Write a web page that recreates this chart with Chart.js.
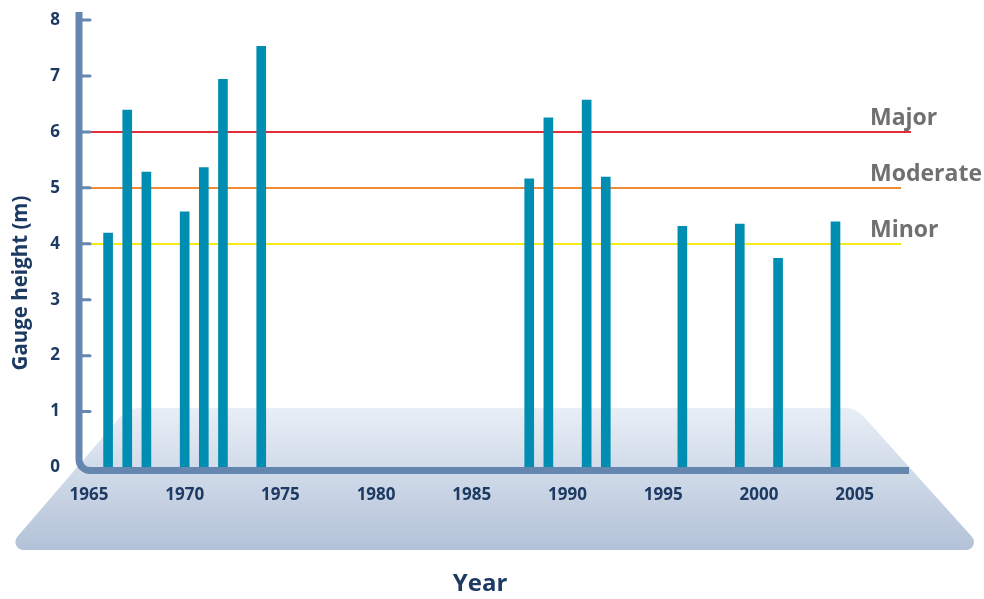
<!DOCTYPE html>
<html lang="en">
<head>
    <meta charset="UTF-8">
    <title>Gauge height</title>
    <script src="https://cdn.jsdelivr.net/npm/chart.js"></script>
    <style>
        body { margin: 0; background: #fff; }
    </style>
</head>
<body>
    <canvas id="chartGauge" width="984" height="599"></canvas>

    <script>
        // peak flood heights per year
        const years = [1966, 1967, 1968, 1970, 1971, 1972, 1974, 1988, 1989, 1991, 1992, 1996, 1999, 2001, 2004];
        const heights = [4.19, 6.39, 5.28, 4.57, 5.36, 6.94, 7.53, 5.16, 6.25, 6.57, 5.19, 4.31, 4.35, 3.74, 4.39];

        // flood classification levels
        const floodLevels = [6, 5, 4];
        const floodLabels = ['Major', 'Moderate', 'Minor'];

        const xTicks = [1965, 1970, 1975, 1980, 1985, 1990, 1995, 2000, 2005];
        const yTicks = [0, 1, 2, 3, 4, 5, 6, 7, 8];

        const navy = '#1d3a63';
        const axisColor = '#6587af';
        const levelColors = ['#e32e37', '#ef8a35', '#f6ea16'];

        // light blue "floor" behind the axes
        const floorPlugin = {
            id: 'floor',
            beforeDraw(chart) {
                const ctx = chart.ctx;
                const top = 408, bottom = 550;
                const pts = [[128, top], [856, top], [984, bottom], [6, bottom]];
                const radii = [24, 24, 8, 8];
                ctx.save();
                let g = ctx.createLinearGradient(0, top, 0, bottom);
                g.addColorStop(0, '#e8eef6');
                g.addColorStop(1, '#b3c2d8');
                ctx.fillStyle = g;
                ctx.beginPath();
                let mx = (pts[3][0] + pts[0][0]) / 2, my = (pts[3][1] + pts[0][1]) / 2;
                ctx.moveTo(mx, my);
                for (let i = 0; i < 4; i++) {
                    let p = pts[i], n = pts[(i + 1) % 4];
                    ctx.arcTo(p[0], p[1], n[0], n[1], radii[i]);
                }
                ctx.closePath();
                ctx.fill();
                ctx.restore();
            }
        };

        // flood level lines + labels (under the bars) and the axis titles
        const levelsPlugin = {
            id: 'levels',
            beforeDatasetsDraw(chart) {
                const ctx = chart.ctx;
                const y = chart.scales.y, area = chart.chartArea;
                ctx.save();
                floodLevels.forEach((lvl, i) => {
                    let py = Math.round(y.getPixelForValue(lvl));
                    ctx.strokeStyle = levelColors[i];
                    ctx.lineWidth = 2;
                    ctx.beginPath();
                    ctx.moveTo(area.left + 10, py);
                    ctx.lineTo(i === 0 ? area.right + 2 : area.right - 8, py);
                    ctx.stroke();

                    ctx.fillStyle = '#707070';
                    ctx.font = 'bold 23px "Open Sans"';
                    ctx.textAlign = 'left';
                    ctx.textBaseline = 'alphabetic';
                    ctx.fillText(floodLabels[i], area.right - 39, py - 7);
                });

                ctx.fillStyle = navy;
                ctx.textAlign = 'center';
                ctx.textBaseline = 'middle';

                // x title sits a bit left of the plot centre in the original
                ctx.font = 'bold 24px "Open Sans"';
                ctx.fillText('Year', 480, 584);

                // y title
                ctx.font = 'bold 20.5px "Open Sans"';
                ctx.translate(21, 283);
                ctx.rotate(-Math.PI / 2);
                ctx.fillText('Gauge height (m)', 0, 0);
                ctx.restore();
            }
        };

        // thick rounded axis lines, drawn over the bar bottoms
        const axesPlugin = {
            id: 'axesLines',
            afterDatasetsDraw(chart) {
                const ctx = chart.ctx;
                const y = chart.scales.y, area = chart.chartArea;
                const ax = area.left, ay = area.bottom + 3;
                ctx.save();
                ctx.strokeStyle = axisColor;

                ctx.lineWidth = 3;
                ctx.lineCap = 'round';
                yTicks.slice(1).forEach(v => {
                    let py = y.getPixelForValue(v);
                    ctx.beginPath();
                    ctx.moveTo(ax, py);
                    ctx.lineTo(ax + 11, py);
                    ctx.stroke();
                });

                ctx.lineWidth = 7;
                ctx.lineCap = 'butt';
                ctx.beginPath();
                ctx.moveTo(ax, area.top - 8);
                ctx.arcTo(ax, ay, ax + 12, ay, 11);
                ctx.lineTo(area.right, ay);
                ctx.stroke();
                ctx.restore();
            }
        };

        const tickFont = { family: 'Open Sans', weight: 'bold', size: 17 };

        new Chart(document.getElementById('chartGauge').getContext('2d'), {
            type: 'bar',
            data: {
                datasets: [{
                    label: 'Gauge height',
                    data: years.map((yr, i) => ({ x: yr, y: heights[i] })),
                    backgroundColor: '#008db2',
                    barThickness: 9
                }]
            },
            options: {
                responsive: false,
                animation: false,
                layout: { padding: { top: 20, right: 75, left: 0, bottom: 0 } },
                plugins: {
                    legend: { display: false },
                    tooltip: { enabled: false }
                },
                scales: {
                    x: {
                        type: 'linear',
                        min: 1964.48,
                        max: 2007.84,
                        offset: false,
                        afterBuildTicks: s => { s.ticks = xTicks.map(v => ({ value: v })); },
                        afterFit: s => { s.height = 131.5; s.paddingLeft = 0; s.paddingRight = 0; },
                        grid: { display: false, drawTicks: false },
                        border: { display: false },
                        ticks: {
                            padding: 17,
                            font: tickFont,
                            color: navy,
                            autoSkip: false,
                            maxRotation: 0,
                            callback: v => String(v)
                        }
                    },
                    y: {
                        min: 0,
                        max: 8,
                        afterBuildTicks: s => { s.ticks = yTicks.map(v => ({ value: v })); },
                        // fixed width; drop the label padding so the plot top follows layout.padding
                        afterFit: s => { s.width = 79; s.paddingTop = 0; s.paddingBottom = 0; },
                        grid: { display: false, drawTicks: false },
                        border: { display: false },
                        ticks: {
                            padding: 19,
                            font: tickFont,
                            color: navy
                        }
                    }
                }
            },
            plugins: [floorPlugin, levelsPlugin, axesPlugin]
        });
    </script>
</body>
</html>
